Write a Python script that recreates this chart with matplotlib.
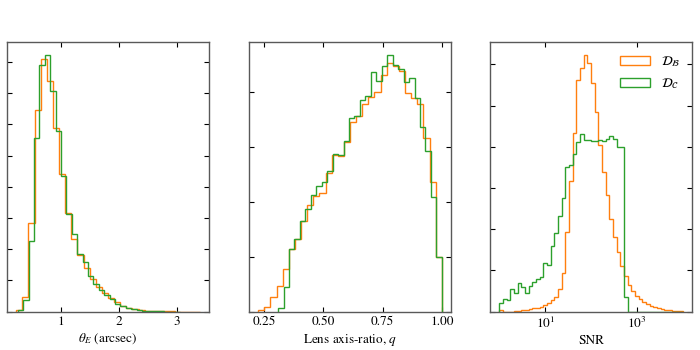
import numpy as np
import matplotlib
matplotlib.use("Agg")
import matplotlib.pyplot as plt
from matplotlib.ticker import NullLocator

plt.rcParams['font.family'] = 'serif'
plt.rcParams['font.serif'] = ['STIXGeneral', 'Liberation Serif', 'DejaVu Serif']
plt.rcParams['mathtext.fontset'] = 'stix'
plt.rcParams['font.size'] = 9.5

c_b = '#ff7f0e'
c_c = '#2ca02c'

# Einstein radius, arcsec (30 bins over each sample's range)
theta_b_lim = (0.224, 3.39)
theta_b = [0.07, 0.46, 2.85, 6.47, 8.09, 7.38, 5.87, 4.41, 3.15, 2.34,
           1.81, 1.40, 1.05, 0.78, 0.60, 0.45, 0.32, 0.18, 0.13, 0.10,
           0.06, 0.03, 0.02, 0.015, 0.01, 0.01, 0.005, 0.005, 0.003, 0.005]
theta_c_lim = (0.253, 3.043)
theta_c = [0.05, 0.37, 2.25, 5.58, 7.89, 8.23, 7.06, 5.78, 4.35, 3.14,
           2.49, 1.85, 1.58, 1.15, 0.90, 0.68, 0.52, 0.40, 0.26, 0.17,
           0.12, 0.08, 0.05, 0.03, 0.02, 0.012, 0.008, 0.005, 0.003, 0.002]

# lens axis ratio q
q_b_lim = (0.225, 1.0)
q_b = [0.03, 0.09, 0.26, 0.47, 0.78, 1.14, 1.32, 1.64, 1.94, 2.11,
       2.15, 2.52, 2.85, 2.83, 3.09, 3.44, 3.55, 3.78, 3.90, 3.99,
       4.30, 4.53, 4.47, 4.38, 3.97, 3.88, 3.78, 3.15, 2.35, 1.00]
q_c_lim = (0.309, 1.0)
q_c = [0.06, 0.45, 1.14, 1.32, 1.64, 1.87, 2.12, 2.29, 2.35, 2.56,
       2.87, 2.84, 3.11, 3.52, 3.56, 3.84, 3.92, 4.35, 4.20, 4.47,
       4.67, 4.48, 4.41, 4.18, 4.25, 3.88, 3.35, 2.92, 2.09, 0.99]

# SNR, shared log bins from 10^0 to 10^4
snr_lim = (0, 4)
snr_b = [0.03, 0.0, 0.0, 0.0, 0.01, 0.02, 0.03, 0.04, 0.06, 0.08,
         0.10, 0.12, 0.16, 0.22, 0.28, 0.36, 0.54, 0.93, 1.94, 3.16,
         4.34, 5.61, 5.91, 6.23, 6.04, 5.54, 4.85, 4.05, 3.40, 2.83,
         2.25, 1.82, 1.46, 1.11, 0.87, 0.65, 0.51, 0.38, 0.30, 0.24,
         0.19, 0.14, 0.11, 0.08, 0.06, 0.04, 0.03, 0.02, 0.015, 0.01]
snr_c = [0.20, 0.32, 0.28, 0.55, 0.45, 0.69, 0.61, 0.45, 0.63, 0.73,
         0.79, 0.85, 1.19, 1.13, 1.59, 1.90, 2.32, 2.75, 3.50, 3.55,
         3.82, 4.11, 4.31, 4.17, 4.17, 4.14, 4.15, 4.17, 4.13, 4.19,
         4.25, 4.19, 4.00, 4.00, 0.36, 0, 0, 0, 0, 0,
         0, 0, 0, 0, 0, 0, 0, 0, 0, 0]

labels = [r'$\mathcal{D}_\mathcal{B}$', r'$\mathcal{D}_\mathcal{C}$']


def step(ax, lim, vals, color, label=None, log=False):
    n = len(vals)
    if log:
        e = np.logspace(lim[0], lim[1], n + 1)
    else:
        e = np.linspace(lim[0], lim[1], n + 1)
    ax.hist(e[:-1], bins=e, weights=vals, histtype='step', color=color,
            lw=1.0, label=label)


fig = plt.figure(figsize=(7, 3.5), dpi=100)
lefts = [7, 249, 490]
axes = []
for l in lefts:
    ax = fig.add_axes([l / 700, 1 - 311.7 / 350, 202 / 700, 269.7 / 350])
    axes.append(ax)

ax1, ax2, ax3 = axes

step(ax1, theta_b_lim, theta_b, c_b)
step(ax1, theta_c_lim, theta_c, c_c)
ax1.set_xticks([1, 2, 3])
ax1.set_yticks(range(0, 9))
ax1.set_xlabel(r'$\theta_E$ (arcsec)', labelpad=3)

step(ax2, q_b_lim, q_b, c_b)
step(ax2, q_c_lim, q_c, c_c)
ax2.set_xticks([0.25, 0.5, 0.75, 1.0])
ax2.set_yticks(range(0, 5))
ax2.set_xlabel(r'Lens axis-ratio, $q$', labelpad=3)

ax3.set_xscale('log')
step(ax3, snr_lim, snr_b, c_b, labels[0], log=True)
step(ax3, snr_lim, snr_c, c_c, labels[1], log=True)
ax3.set_xticks([10, 1000])
ax3.xaxis.set_minor_locator(NullLocator())
ax3.set_yticks(range(0, 7))
ax3.set_xlabel('SNR', labelpad=3)
ax3.legend(loc='upper right', frameon=False, handlelength=2.3,
           handletextpad=0.8, labelspacing=0.55, fontsize=9.5)

for ax in axes:
    ax.set_ylim(bottom=0)
    ax.tick_params(direction='in', top=True, right=True, length=3.5,
                   width=0.8, labelleft=False, pad=3)
    for s in ax.spines.values():
        s.set_color('0.35')
        s.set_linewidth(1.0)

fig.savefig('out.png', dpi=100)
